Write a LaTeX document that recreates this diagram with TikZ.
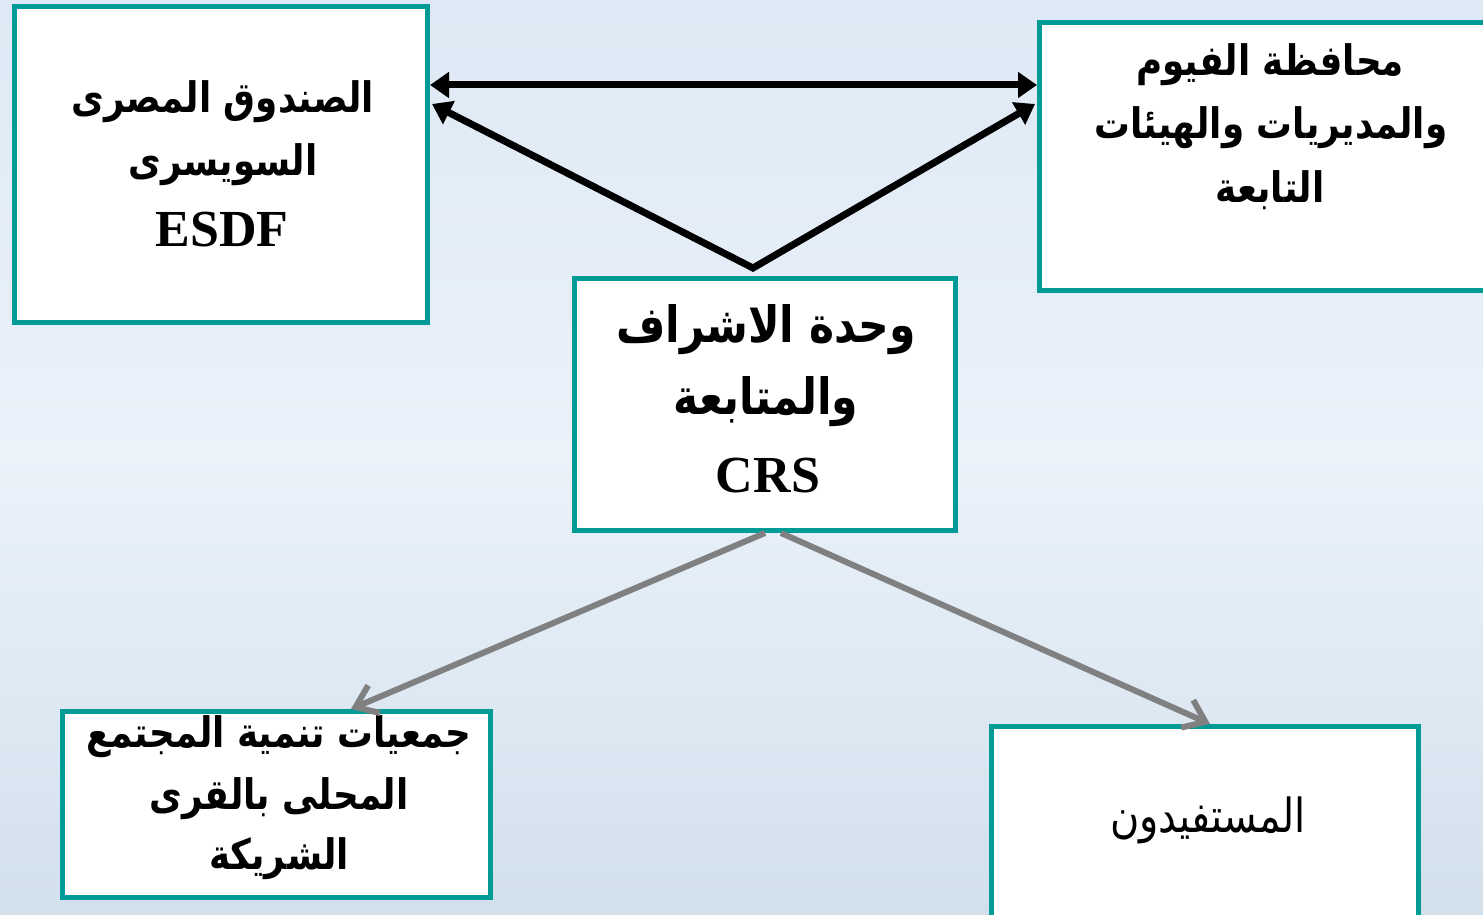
\documentclass[tikz,border=0pt]{standalone}
\usepackage{fontspec}
\usetikzlibrary{arrows.meta,calc}
\setmainfont{Liberation Serif}
\newfontfamily\arabicfont[Script=Arabic,FakeStretch=0.85]{DejaVu Sans}
\TeXXeTstate=1
\definecolor{teal}{HTML}{009A97}
\definecolor{bgtop}{HTML}{DEE9F5}
\definecolor{bgmid}{HTML}{EAF2FA}
\definecolor{bgbot}{HTML}{D2E0EC}
\definecolor{arrgray}{HTML}{808080}
\tikzset{
  box/.style={draw=teal, line width=2.5pt, fill=white, inner sep=0pt},
  artext/.style={align=center, font=\arabicfont\bfseries\fontsize{21}{32}\selectfont, inner sep=0pt},
  bigartext/.style={align=center, font=\arabicfont\bfseries\fontsize{25}{36}\selectfont, inner sep=0pt},
  lattext/.style={font=\bfseries\fontsize{26}{30}\selectfont, inner sep=0pt},
  blackarrow/.style={line width=3.5pt, black, arrows={Triangle[length=9.5pt,width=12.5pt]-Triangle[length=9.5pt,width=12.5pt]}},
  grayarrow/.style={line width=3pt, arrgray, -{Straight Barb[length=10pt,width=15pt,line width=3pt]}}
}
\begin{document}
\begin{tikzpicture}[x=0.5pt,y=-0.5pt]
\clip (0,0) rectangle (1483,915);
\useasboundingbox (0,0) rectangle (1483,915);
\shade[top color=bgtop, bottom color=bgbot, middle color=bgmid] (0,0) rectangle (1483,915);

% boxes
\node[box, minimum width=206.5pt, minimum height=158pt] (esdf) at (221,164.5) {};
\node[box, minimum width=230.5pt, minimum height=134pt] (gov) at (1270,156.5) {};
\node[box, minimum width=190.5pt, minimum height=126pt] (crs) at (765,404.5) {};
\node[box, minimum width=214pt, minimum height=93pt] (cbo) at (276.5,804.5) {};
\node[box, minimum width=213.5pt, minimum height=99.25pt] (ben) at (1205,825.75) {};

% texts
\node[artext] (esdf1) at (223,102) {\beginR الصندوق المصرى\endR};
\node[artext] (esdf2) at (223,165) {\beginR السويسرى\endR};
\node[lattext] (esdf3) at (222,230) {ESDF};

\node[artext] (gov1) at (1270,65) {\beginR محافظة الفيوم\endR};
\node[artext] (gov2) at (1271,128) {\beginR والمديريات والهيئات\endR};
\node[artext] (gov3) at (1270,190) {\beginR التابعة\endR};

\node[bigartext] (crs1) at (766,330) {\beginR وحدة الاشراف\endR};
\node[bigartext] (crs2) at (766,402) {\beginR والمتابعة\endR};
\node[lattext] (crs3) at (768,476) {CRS};

\node[artext] (cbo1) at (279,737) {\beginR جمعيات تنمية المجتمع\endR};
\node[artext] (cbo2) at (279,799) {\beginR المحلى بالقرى\endR};
\node[artext] (cbo3) at (279,859) {\beginR الشريكة\endR};

\node[align=center, font=\arabicfont\fontsize{23.5}{32}\selectfont, inner sep=0pt] (ben1) at (1208,820) {\beginR المستفيدون\endR};

% connectors
\coordinate (hy) at (0,85);
\coordinate (vy) at (0,104);
\coordinate (apex) at (753,268);
\coordinate (gl) at (351,0);
\coordinate (gr) at (1210,0);
\draw[blackarrow] (esdf.east |- hy) -- (gov.west |- hy);
\draw[blackarrow, line width=3.5pt, line join=miter] ([xshift=1pt]esdf.east |- vy) -- (apex) -- ([xshift=-1pt]gov.west |- vy);
\draw[grayarrow] (crs.south) -- (cbo.north -| gl);
\draw[grayarrow] ([xshift=8pt]crs.south) -- (ben.north -| gr);
\end{tikzpicture}
\end{document}
